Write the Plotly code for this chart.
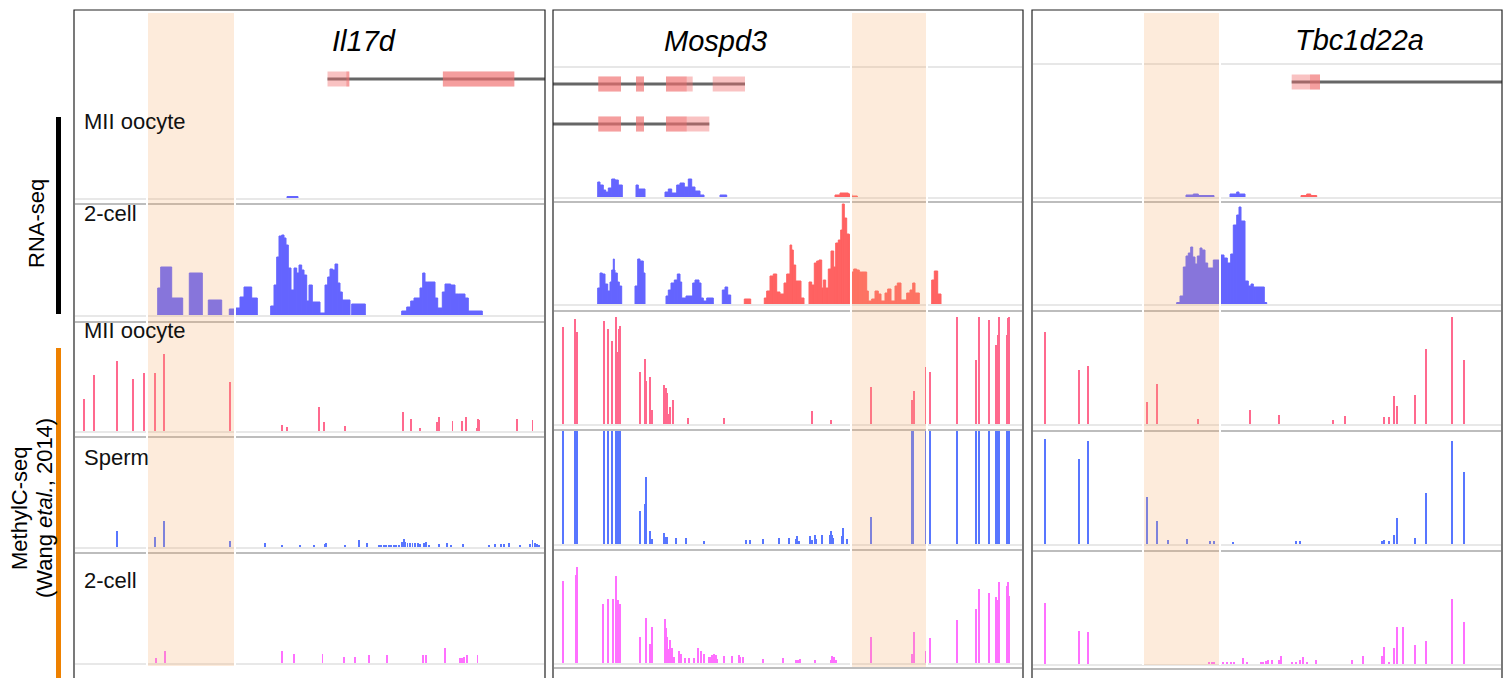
import plotly.graph_objects as go

W, H = 1511, 678

# ------------------------------------------------------------------ data
loci = ["Il17d", "Mospd3", "Tbc1d22a"]
track_names = ["MII oocyte", "2-cell", "MII oocyte", "Sperm", "2-cell"]

# highlighted region per locus (position units along each locus window)
dmr = {"Il17d": (74, 160), "Mospd3": (299, 373), "Tbc1d22a": (112, 187)}

# gene models: transcript span, exons, coding parts
genes_il17d = [dict(span=(253.5, 471), exons=[(253.5, 275.3), (368.9, 440.3)],
                    cds=[(272.4, 275.3), (368.9, 440.3)])]
genes_mospd3 = [dict(span=(0, 192), exons=[(45.3, 68), (83, 91), (113, 139.7), (159.7, 192)],
                     cds=[(45.3, 68), (83, 91), (113, 133.7)]),
                dict(span=(0, 156.3), exons=[(45.3, 68), (83, 91), (113, 156.3)],
                     cds=[(45.3, 68), (83, 91), (113, 133.7)])]
genes_tbc1d22a = [dict(span=(259.7, 470), exons=[(259.7, 288)], cds=[(278, 288)])]

# RNA-seq coverage: (start, end, value); plus strand (blue) / minus strand (red)
rna_mii_il17d_plus = [(213, 224, 1.5)]
rna_mii_il17d_minus = []
rna_2c_il17d_plus = [
    (83.7, 86.7, 27), (86.7, 97.7, 48), (97.7, 108.7, 17), (115.3, 128.3, 42), (134.3, 147.7, 15),
    (155.3, 160.3, 6), (162, 166, 7), (166, 170, 18), (170, 177.7, 28), (177.7, 183.3, 17),
    (196.7, 200, 9), (200, 202.7, 30), (202.7, 205, 58), (205, 207.7, 79), (207.7, 210, 80),
    (210, 212, 77), (212, 214.3, 70), (214.3, 217, 47), (217, 220, 25), (220, 222.7, 47),
    (222.7, 225, 42), (225, 227.7, 50), (227.7, 230, 45), (230, 232.7, 40), (232.7, 235, 14),
    (235, 238.3, 30), (238.3, 246, 13), (246, 251, 2), (251, 253.7, 30), (253.7, 256, 38),
    (256, 258.7, 46), (258.7, 261, 45), (261, 263.7, 51), (263.7, 266, 32), (266, 268.3, 23),
    (268.3, 276, 15), (277.7, 291.3, 11), (327.7, 332.7, 4), (332.7, 336.7, 8), (336.7, 340, 14),
    (340, 346, 17), (346, 348.7, 27), (348.7, 351, 42), (351, 353.3, 33), (353.3, 361, 33),
    (361, 363.7, 17), (363.7, 368.3, 7), (368.3, 371, 23), (371, 376.7, 31), (376.7, 381, 30),
    (381, 384.3, 21), (384.3, 391, 21), (391, 394.3, 17), (394.3, 408.3, 4)]
rna_2c_il17d_minus = []

rna_mii_mospd3_plus = [
    (44.7, 47, 15), (47, 50.3, 12), (50.3, 52.7, 7), (52.7, 55.3, 5), (55.3, 58.7, 9), (58.7, 62, 18),
    (62, 65.3, 17), (65.3, 69.3, 12), (83, 85.3, 12), (85.3, 87, 8), (87, 92, 8), (112, 115.3, 5),
    (115.3, 118.7, 8), (118.7, 123.7, 4), (123.7, 127, 12), (127, 131.3, 14), (131.3, 135.3, 10),
    (135.3, 138.7, 18), (138.7, 142, 10), (142, 147, 6), (147, 151, 2), (167, 173.7, 2)]
rna_mii_mospd3_minus = [(282, 287, 2), (287, 295.3, 4), (295.3, 298.7, 3), (298.7, 304.3, 1)]
rna_2c_mospd3_plus = [
    (44.7, 47, 16), (47, 49.3, 31), (49.3, 52, 30), (52, 54.7, 20), (54.7, 57, 13), (57, 58.7, 22),
    (58.7, 60.3, 34), (60.3, 61.3, 45), (61.3, 62, 34), (62, 64.3, 31), (64.3, 66.3, 22), (66.3, 68.7, 18),
    (82, 84.7, 18), (84.7, 87, 45), (87, 90.3, 43), (90.3, 92, 31),
    (113, 115.3, 8), (115.3, 118, 14), (118, 121.3, 21), (121.3, 124.3, 24), (124.3, 127, 30),
    (127, 128.7, 22), (128.7, 133, 6), (133, 139.7, 8), (139.7, 142, 21), (142, 146, 24),
    (146, 148, 21), (148, 150.3, 6), (150.3, 153.7, 3), (153.7, 160.3, 6),
    (169.3, 172, 14), (172, 174.7, 17), (174.7, 177.7, 9)]
rna_2c_mospd3_minus = [
    (191.3, 197.7, 5), (211.3, 213.7, 6), (213.7, 217, 13), (217, 220.3, 28), (220.3, 223.7, 30),
    (223.7, 227, 12), (227, 231, 10), (231, 233.7, 21), (233.7, 237, 30), (237, 238.7, 59),
    (238.7, 240.3, 54), (240.3, 242.7, 39), (242.7, 248, 23), (248, 251, 6),
    (256, 258.7, 22), (258.7, 261.3, 19), (261.3, 263.7, 41), (263.7, 266, 43), (266, 268.7, 44),
    (268.7, 270.3, 16), (270.3, 272.7, 24), (272.7, 275.3, 16), (275.3, 278, 35), (278, 280.7, 53),
    (280.7, 282.7, 37), (282.7, 285.3, 61), (285.3, 287.7, 64), (287.7, 289.3, 74), (289.3, 291.3, 100),
    (291.3, 293.7, 86), (293.7, 296.3, 70), (296.3, 298, 69), (298, 300.7, 32), (300.7, 303.7, 35),
    (303.7, 306.3, 34), (306.3, 308.7, 32), (308.7, 313.7, 32), (313.7, 315.3, 13), (315.3, 318.7, 3),
    (318.7, 322, 5), (322, 325.3, 13), (325.3, 328, 10), (328, 332, 3), (332, 334.7, 11),
    (334.7, 338, 15), (338, 342, 3), (342, 344.3, 18), (344.3, 348, 21), (348, 353.7, 4),
    (353.7, 357, 11), (357, 359.7, 14), (359.7, 362, 21), (362, 366.3, 11),
    (378.7, 381.3, 24), (381.3, 384.7, 33), (384.7, 388, 10)]

rna_mii_tbc1d22a_plus = [(154, 161.3, 2), (161.3, 166.3, 3), (166.3, 182, 1.5), (198, 204.7, 3),
                         (204.7, 207, 5), (207, 213, 3)]
rna_mii_tbc1d22a_minus = [(269, 274.7, 1.5), (274.7, 278.7, 3), (278.7, 284.7, 1.5)]
rna_2c_tbc1d22a_plus = [
    (144.7, 148, 1.5), (148, 151.3, 8), (151.3, 154, 37), (154, 156.3, 48), (156.3, 158.7, 51),
    (158.7, 160.7, 57), (160.7, 163, 47), (163, 165.3, 40), (165.3, 168, 48), (168, 170, 56),
    (170, 173, 54), (173, 175.7, 41), (175.7, 181.3, 36), (181.3, 186.3, 44), (186.3, 188, 44),
    (188, 192, 49), (192, 195.3, 46), (195.3, 198.7, 41), (198.7, 201.3, 50), (201.3, 204.7, 79),
    (204.7, 207, 89), (207, 209, 97), (209, 213, 83), (213, 216.3, 23), (216.3, 219, 18),
    (219, 221.3, 20), (221.3, 223.7, 17), (223.7, 232.3, 17), (232.3, 234.7, 1.5)]
rna_2c_tbc1d22a_minus = []

# MethylC-seq: (position, methylation level)
me_mii_il17d = [(10.3, 32), (20.3, 56), (42.8, 70), (58.9, 52), (70.3, 58), (80.6, 58), (90.3, 77),
                (156.4, 49), (207.8, 6), (213.1, 4), (245.3, 24), (250.3, 9), (271, 5), (329.2, 19),
                (337.4, 12), (346.4, 3), (362.8, 9), (364.9, 14), (378.5, 10), (387.8, 10), (392.4, 14),
                (403.1, 3), (403.9, 12), (405.3, 11), (443.1, 12), (458.5, 11)]
me_sperm_il17d = [(42.8, 16), (81, 10), (90.3, 26), (156.4, 6), (191.4, 4), (207.8, 2), (226.4, 2),
                  (239.6, 2), (251, 3), (252.4, 4), (271.4, 2), (285.3, 7), (292.8, 4), (304.6, 2),
                  (307.1, 2), (309.6, 2), (312.1, 2), (314.6, 2), (317.1, 2), (319.6, 2), (322.1, 2),
                  (324.6, 2), (327.8, 5), (329.6, 8), (331.4, 5), (333.5, 4), (336, 4), (338.5, 4),
                  (341, 4), (343.9, 4), (346.4, 3), (349.6, 4), (351.7, 5), (354.6, 2), (364.9, 3),
                  (372.8, 4), (377.1, 2), (388.9, 3), (415.3, 2), (420.6, 3), (427.1, 3), (430.3, 3),
                  (435.3, 4), (446.4, 2), (455.6, 3), (458.5, 7), (460.6, 4), (462.8, 3), (464.6, 2)]
me_2c_il17d = [(81.7, 5), (90.6, 12), (207.8, 12), (219.9, 9), (248.5, 9), (270.3, 6), (281, 6),
               (295.3, 8), (313.1, 8), (349.2, 8), (352.1, 8), (371.4, 15), (385.6, 5), (388.1, 5),
               (390.3, 6), (393.1, 8), (403.5, 8)]

me_mii_mospd3 = [(10.3, 97), (22.3, 105), (24.3, 92), (50.7, 103), (55, 95), (59.3, 83), (62.7, 107),
                 (63.7, 72), (65.7, 95), (66.7, 98), (67.3, 75), (87.3, 52), (92.3, 65), (93.3, 43),
                 (97.3, 47), (99.3, 14), (111, 39), (112.7, 36), (114, 31), (115.3, 10), (117.3, 17),
                 (119.7, 24), (134.7, 6), (170.7, 6), (258.7, 13), (277.7, 4), (317.7, 37), (359.3, 24),
                 (360.7, 33), (372.7, 57), (377.3, 52), (404.3, 107), (423.3, 64), (426.3, 107),
                 (436.3, 104), (443.3, 79), (445, 89), (446.3, 107), (454, 89), (455.3, 106), (456.3, 107)]
me_sperm_mospd3 = [(10.3, 113), (22.3, 113), (24.3, 113), (50.7, 113), (55, 113), (59.3, 113),
                   (62.7, 113), (63.7, 113), (65.7, 113), (66.7, 113), (67.3, 72), (87.3, 33), (92.3, 40),
                   (93.3, 67), (97.3, 13), (99.3, 5), (111, 11), (112.7, 7), (114, 7), (123.3, 6),
                   (133.3, 6), (151.3, 3), (193.3, 4), (197.3, 4), (210, 5), (226, 6), (236.3, 6),
                   (243.3, 5), (244.3, 8), (246, 3), (257, 8), (259, 4), (261.7, 9), (263, 5), (268.7, 9),
                   (276.7, 9), (277.7, 13), (279.3, 9), (280.3, 6), (288.7, 8), (290.3, 16), (294.3, 5),
                   (317.7, 27), (359.3, 113), (360.3, 113), (372.7, 113), (377.3, 113), (404.3, 113),
                   (423.3, 113), (426.3, 113), (436.3, 113), (443.3, 113), (445, 113), (446.3, 113),
                   (454, 113), (455.3, 113), (456.3, 113)]
me_2c_mospd3 = [(10.3, 82), (22.7, 88), (24.3, 96), (50.3, 59), (55, 64), (59.7, 64), (63, 87), (64, 41),
                (65.3, 63), (66.3, 48), (67.3, 59), (87.3, 26), (92.7, 45), (93.3, 39), (97.3, 19),
                (99.3, 36), (111.7, 44), (113, 35), (114, 26), (115.3, 14), (117, 23), (119.3, 15),
                (121.3, 6), (126.3, 12), (128, 9), (132.3, 5), (135.7, 5), (141.3, 5), (145.3, 15),
                (148.3, 12), (151, 9), (156.3, 6), (158, 6), (159.3, 8), (161.3, 9), (162.7, 8),
                (164.3, 4), (170.7, 7), (179, 7), (185.7, 8), (187.3, 6), (189.7, 6), (209.7, 4),
                (230.3, 5), (243, 3), (244.7, 3), (247, 4), (262, 3), (277.7, 3), (279.3, 7), (281, 6),
                (283, 3), (317.7, 26), (359.3, 9), (360.7, 31), (372.7, 12), (377.3, 25), (404.3, 43),
                (423.3, 54), (426.3, 74), (436.3, 70), (443.3, 66), (445, 63), (446.3, 81), (454, 77),
                (455.3, 81), (456.3, 67)]

me_mii_tbc1d22a = [(13.3, 92), (46.7, 54), (56.3, 58), (114.7, 22), (124.7, 40), (166.3, 5),
                   (217.7, 14), (246.7, 9), (300.7, 4), (313, 8), (351.7, 7), (357, 7), (362.3, 28),
                   (364.7, 18), (383, 29), (394.3, 75), (420, 107), (432, 64)]
me_sperm_tbc1d22a = [(13.3, 105), (46.7, 85), (56.3, 103), (114.7, 47), (124.7, 23), (135.7, 4),
                     (154.7, 5), (178, 3), (182.3, 3), (201.3, 1.5), (264, 3), (268.3, 3), (349.7, 3),
                     (351.7, 4), (357, 3), (362.3, 9), (364.7, 26), (383, 6), (394.3, 51), (420, 103),
                     (432, 72)]
me_2c_tbc1d22a = [(13.3, 61), (46.7, 33), (56.3, 32), (177.3, 2), (179.7, 2), (182, 2), (191.3, 2),
                  (195.3, 2), (199.3, 2), (201.7, 2), (211.3, 6), (214.7, 2), (228.7, 2), (231.3, 2),
                  (233.7, 3), (236.3, 4), (240.3, 4), (247.3, 4), (249, 8), (260, 2), (264, 2),
                  (268.3, 4), (271.3, 7), (274.7, 2), (284.3, 4), (319.7, 4), (331.3, 8), (349.7, 8),
                  (351.7, 17), (357, 2), (362.3, 16), (364.7, 37), (370.7, 37), (383, 19), (394.3, 23),
                  (420, 65), (432, 42)]

# ------------------------------------------------------------------ layout geometry (pixels)
panels = [
    dict(name="Il17d", left=74, right=545, row0=79, genes=genes_il17d, label_x=364, label_y=41,
         tracks=[(198, 100), (315, 205), (431, 322), (547, 437), (663, 553)],
         light=[199, 316, 432, 548, 664], dark=[204, 322, 437, 553], thin=[], band_y=(13, 666),
         rna=[(rna_mii_il17d_plus, rna_mii_il17d_minus), (rna_2c_il17d_plus, rna_2c_il17d_minus)],
         me=[me_mii_il17d, me_sperm_il17d, me_2c_il17d]),
    dict(name="Mospd3", left=553, right=1023, row0=84, genes=genes_mospd3, label_x=715, label_y=41,
         tracks=[(197, 97), (304, 202), (424, 313), (544, 431), (663, 551)],
         light=[198, 305, 425, 545, 664], dark=[202, 311, 430, 550, 668], thin=[67], band_y=(13, 667),
         rna=[(rna_mii_mospd3_plus, rna_mii_mospd3_minus), (rna_2c_mospd3_plus, rna_2c_mospd3_minus)],
         me=[me_mii_mospd3, me_sperm_mospd3, me_2c_mospd3]),
    dict(name="Tbc1d22a", left=1032, right=1502, row0=82, genes=genes_tbc1d22a, label_x=1359, label_y=40,
         tracks=[(197, 97), (304, 202), (424, 313), (544, 431), (664, 552)],
         light=[198, 305, 425, 545, 665], dark=[202, 311, 431, 551, 669], thin=[64], band_y=(13, 665),
         rna=[(rna_mii_tbc1d22a_plus, rna_mii_tbc1d22a_minus), (rna_2c_tbc1d22a_plus, rna_2c_tbc1d22a_minus)],
         me=[me_mii_tbc1d22a, me_sperm_tbc1d22a, me_2c_tbc1d22a]),
]

BLUE = "#6464FF"
RED = "#FF6262"
ME_COLORS = ["#FF4472", "#2F55FF", "#FF4DFF"]
EXON = "rgba(240,110,110,0.42)"
FONT = "Liberation Sans, Arial, Helvetica, sans-serif"


def py(p):
    return 1 - p / H


fig = go.Figure()
layout = dict(width=W, height=H, margin=dict(l=0, r=0, t=0, b=0), paper_bgcolor="white",
              plot_bgcolor="rgba(0,0,0,0)", showlegend=False, barmode="overlay",
              font=dict(family=FONT, color="black"))
shapes, annotations = [], []

for p, P in enumerate(panels):
    xa = "x" if p == 0 else f"x{p + 1}"
    xkey = "xaxis" if p == 0 else f"xaxis{p + 1}"
    wpx = P["right"] - P["left"]
    base_idx = p * 6 + 1
    layout[xkey] = dict(domain=[P["left"] / W, P["right"] / W], range=[0, wpx], visible=False,
                        fixedrange=True, anchor=f"y{base_idx}" if base_idx > 1 else "y")

    def yname(t):
        i = base_idx + t
        return ("y" if i == 1 else f"y{i}"), ("yaxis" if i == 1 else f"yaxis{i}")

    # gene model axis
    yn, yk = yname(0)
    layout[yk] = dict(domain=[py(P["row0"] + 60), py(P["row0"] - 20)], range=[1.5, -0.5],
                      visible=False, fixedrange=True, anchor=xa)
    for r, tx in enumerate(P["genes"]):
        s, e = tx["span"]
        fig.add_bar(orientation="h", y=[r], x=[e - s], base=[s], width=0.075,
                    marker=dict(color="#666666", line=dict(width=0)), xaxis=xa, yaxis=yn, hoverinfo="skip")
        for part in ("exons", "cds"):
            segs = tx[part]
            fig.add_bar(orientation="h", y=[r] * len(segs), x=[b - a for a, b in segs],
                        base=[a for a, b in segs], width=0.375,
                        marker=dict(color=EXON, line=dict(width=0)), xaxis=xa, yaxis=yn, hoverinfo="skip")

    # data tracks
    for t, (bot, top) in enumerate(P["tracks"]):
        yn, yk = yname(t + 1)
        layout[yk] = dict(domain=[py(bot), py(top)], range=[0, bot - top], visible=False,
                          fixedrange=True, anchor=xa)
        if t < 2:
            for segs, col in zip(P["rna"][t], (BLUE, RED)):
                if not segs:
                    continue
                fig.add_bar(x=[(a + b) / 2 for a, b, v in segs], y=[v for a, b, v in segs],
                            width=[b - a for a, b, v in segs],
                            marker=dict(color=col, line=dict(width=1, color=col)), xaxis=xa, yaxis=yn,
                            hoverinfo="skip")
        else:
            pts = P["me"][t - 2]
            fig.add_bar(x=[a for a, v in pts], y=[v for a, v in pts], width=0.9,
                        marker=dict(color=ME_COLORS[t - 2], line=dict(width=0)), opacity=0.8,
                        xaxis=xa, yaxis=yn, hoverinfo="skip")

    x0p, x1p = (P["left"] + 1) / W, (P["right"] - 1) / W
    for yy in P["light"]:
        shapes.append(dict(type="line", xref="paper", yref="paper", x0=x0p, x1=x1p, y0=py(yy), y1=py(yy),
                           line=dict(color="#E0E0E0", width=1.6), layer="below"))
    for yy in P["dark"]:
        shapes.append(dict(type="line", xref="paper", yref="paper", x0=x0p, x1=x1p, y0=py(yy), y1=py(yy),
                           line=dict(color="#BDBDBD", width=2.2), layer="below"))
    for yy in P["thin"]:
        shapes.append(dict(type="line", xref="paper", yref="paper", x0=x0p, x1=x1p, y0=py(yy), y1=py(yy),
                           line=dict(color="#CFCFCF", width=1), layer="below"))

    # highlighted region
    d0, d1 = dmr[P["name"]]
    b0, b1 = P["band_y"]
    shapes.append(dict(type="rect", xref=xa, yref="paper", x0=d0, x1=d1, y0=py(b1), y1=py(b0),
                       fillcolor="rgb(245,170,105)", opacity=0.24, line=dict(width=0), layer="above"))
    for xe in (d0 - 1, d1 + 1):
        shapes.append(dict(type="line", xref=xa, yref="paper", x0=xe, x1=xe, y0=py(b1), y1=py(b0 + 1),
                           line=dict(color="white", width=2), layer="above"))

    # panel frame
    shapes.append(dict(type="rect", xref="paper", yref="paper", x0=P["left"] / W, x1=P["right"] / W,
                       y0=py(720), y1=py(10), line=dict(color="#222222", width=1.2),
                       fillcolor="rgba(0,0,0,0)", layer="above"))

    annotations.append(dict(text=f"<i>{P['name']}</i>", xref="paper", yref="paper",
                            x=P["label_x"] / W, y=py(P["label_y"]), xanchor="center", yanchor="middle",
                            showarrow=False, font=dict(size=29, family=FONT, color="black")))

# track labels (first panel)
label_y = [121.5, 213.5, 330, 457.5, 580.5]
for name, yy in zip(track_names, label_y):
    annotations.append(dict(text=name, xref="paper", yref="paper", x=82 / W, y=py(yy),
                            xanchor="left", yanchor="middle", showarrow=False,
                            font=dict(size=22, family=FONT, color="#111111")))

# group labels on the left
annotations.append(dict(text="RNA-seq", textangle=-90, xref="paper", yref="paper", x=36 / W, y=py(224),
                        xanchor="center", yanchor="middle", showarrow=False,
                        font=dict(size=22, family=FONT, color="black")))
annotations.append(dict(text="MethylC-seq", textangle=-90, xref="paper", yref="paper", x=19 / W, y=py(509),
                        xanchor="center", yanchor="middle", showarrow=False,
                        font=dict(size=22, family=FONT, color="black")))
annotations.append(dict(text="(Wang <i>etal.</i>, 2014)", textangle=-90, xref="paper", yref="paper",
                        x=44 / W, y=py(508), xanchor="center", yanchor="middle", showarrow=False,
                        font=dict(size=22, family=FONT, color="black")))
shapes.append(dict(type="line", xref="paper", yref="paper", x0=58.5 / W, x1=58.5 / W, y0=py(314), y1=py(117),
                   line=dict(color="black", width=5)))
shapes.append(dict(type="line", xref="paper", yref="paper", x0=58.5 / W, x1=58.5 / W, y0=py(700), y1=py(348),
                   line=dict(color="#EE8100", width=5)))

layout["shapes"] = shapes
layout["annotations"] = annotations
fig.update_layout(**layout)
fig.write_html("out.html", config={"displayModeBar": False})
